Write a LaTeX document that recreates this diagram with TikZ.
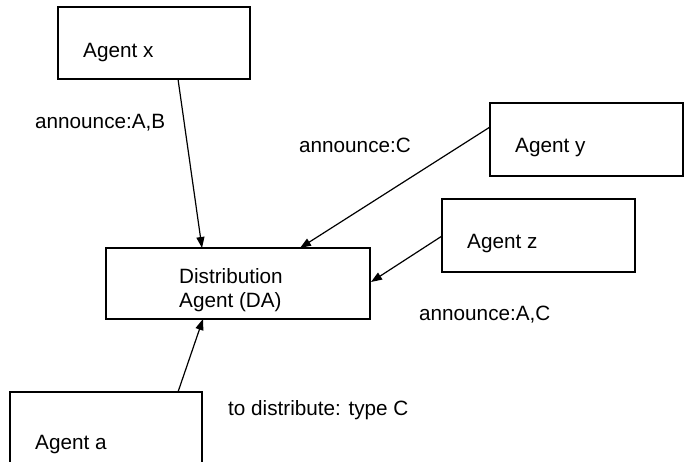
\documentclass[tikz,border=0pt]{standalone}
\usepackage{fontspec}
\setmainfont{Liberation Sans}
\usetikzlibrary{arrows.meta}
\begin{document}
\begin{tikzpicture}[x=1pt,y=-1pt,
  agentbox/.style={draw,line width=1.4pt},
  lbl/.style={anchor=base west,inner sep=0pt,font=\fontsize{20.7}{24}\selectfont},
  msg/.style={line width=1.2pt,-{Triangle[length=11pt,width=8pt]}}]
\useasboundingbox (0,0) rectangle (686,461);
\clip (0,0) rectangle (686,461);
% agent boxes
\draw[agentbox] (58,7) rectangle (250,79);
\draw[agentbox] (490,103) rectangle (683,176);
\draw[agentbox] (442,199) rectangle (635,272);
\draw[agentbox] (106,248) rectangle (370,319);
\draw[agentbox] (10,392) rectangle (202,480);
% box labels
\node[lbl] (ax) at (83,57) {Agent x};
\node[lbl] (ay) at (515,152) {Agent y};
\node[lbl] (az) at (467,248) {Agent z};
\node[lbl] (da1) at (179,283) {Distribution};
\node[lbl] (da2) at (179,307) {Agent (DA)};
\node[lbl] (aa) at (35,449) {Agent a};
% message labels
\node[lbl] (m1) at (35,128) {announce:A,B};
\node[lbl] (m2) at (299,152) {announce:C};
\node[lbl] (m3) at (419,320) {announce:A,C};
\node[lbl] (m4) at (228,415) {to distribute: type C};
% connector end points on the box edges
\coordinate (xs) at (178,79);
\coordinate (xe) at (202,248);
\coordinate (ys) at (490,127);
\coordinate (ye) at (300,248);
\coordinate (zs) at (442,236);
\coordinate (ze) at (371,282);
\coordinate (as) at (178,392);
\coordinate (ae) at (203,319);
\draw[msg] (xs) -- (xe);
\draw[msg] (ys) -- (ye);
\draw[msg] (zs) -- (ze);
\draw[msg] (as) -- (ae);
\end{tikzpicture}
\end{document}
